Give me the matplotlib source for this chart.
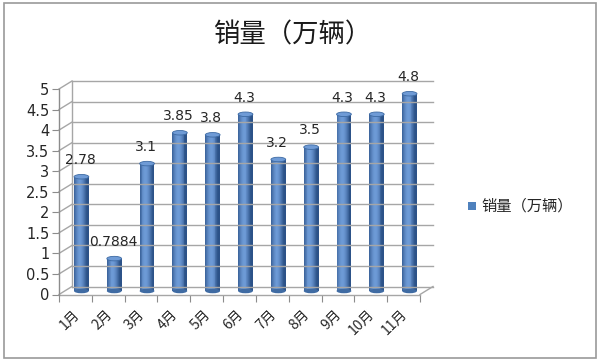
import matplotlib.pyplot as plt
import numpy as np
from matplotlib import transforms
from matplotlib.patches import Ellipse, Rectangle
from matplotlib.colors import to_rgb

plt.rcParams['font.family'] = ['Noto Sans CJK SC', 'DejaVu Sans']

months = ['1月', '2月', '3月', '4月', '5月', '6月', '7月', '8月', '9月', '10月', '11月']
sales = [2.78, 0.7884, 3.1, 3.85, 3.8, 4.3, 3.2, 3.5, 4.3, 4.3, 4.8]
labels = ['2.78', '0.7884', '3.1', '3.85', '3.8', '4.3', '3.2', '3.5', '4.3', '4.3', '4.8']
yticks = [0, 0.5, 1, 1.5, 2, 2.5, 3, 3.5, 4, 4.5, 5]
title = '销量（万辆）'

fig = plt.figure(figsize=(6, 3.61), dpi=100)
fig.patches.append(Rectangle((0.007, 0.008), 0.986, 0.984, transform=fig.transFigure,
                             fill=False, edgecolor='#9a9a9a', lw=1.2))

ax = fig.add_axes([59 / 600, 1 - 294.5 / 361, 361 / 600, 205.5 / 361])
n = len(months)
ax.set_xlim(-0.5, n - 0.5)
ax.set_ylim(0, 5)
for s in ax.spines.values():
    s.set_visible(False)
ax.set_facecolor('none')

grid_c = '#a6a6a6'
back = transforms.offset_copy(ax.transData, fig, x=13, y=8, units='dots')
mid = transforms.offset_copy(ax.transData, fig, x=6, y=3.5, units='dots')

# back wall gridlines and side wall diagonals
for yv in yticks:
    ax.plot([-0.5, n - 0.5], [yv, yv], color=grid_c, lw=1, transform=back, clip_on=False)
ax.plot([-0.5, -0.5], [0, 5], color=grid_c, lw=1, transform=back, clip_on=False)
for yv in yticks:
    p0 = ax.transData.transform((-0.5, yv))
    p1 = back.transform((-0.5, yv))
    ax.plot([p0[0], p1[0]], [p0[1], p1[1]], color=grid_c, lw=1,
            transform=None, clip_on=False)
# floor front and right edge
ax.plot([-0.5, n - 0.5], [0, 0], color=grid_c, lw=1, clip_on=False)
p0 = ax.transData.transform((n - 0.5, 0))
p1 = back.transform((n - 0.5, 0))
ax.plot([p0[0], p1[0]], [p0[1], p1[1]], color=grid_c, lw=1, transform=None, clip_on=False)
# front y axis
ax.plot([-0.5, -0.5], [0, 5], color='#8c8c8c', lw=1, clip_on=False)

# cylinder bars
w = 0.45
dark = np.array(to_rgb('#2c5288'))
light = np.array(to_rgb('#6d9ad6'))
strips = 16
ell_h = 0.11
for i, v in enumerate(sales):
    for k in range(strips):
        t = (k + 0.5) / strips
        sh = np.cos((t - 0.4) * np.pi * 1.05)
        col = dark + (light - dark) * max(sh, 0) ** 1.2
        ax.add_patch(Rectangle((i - w / 2 + k * w / strips, 0), w / strips * 1.05, v,
                               facecolor=col, edgecolor='none', transform=mid, clip_on=False))
    ax.add_patch(Ellipse((i, 0), w, ell_h, facecolor='#3f6ba3', edgecolor='none',
                         transform=mid, clip_on=False, zorder=1.5))
    ax.add_patch(Ellipse((i, v), w, ell_h, facecolor='#6f9bd6', edgecolor='#3d6aa3',
                         lw=0.6, transform=mid, clip_on=False, zorder=3))
    ax.annotate(labels[i], (i, v), xytext=(-1, 7), textcoords='offset points',
                xycoords=mid, ha='center', va='bottom', fontsize=10, color='#262626',
                family=['DejaVu Sans'])

ax.set_xticks(np.arange(-0.5, n, 1))
ax.set_xticklabels([])
ax.tick_params(axis='x', length=5, color='#8c8c8c', direction='out')
for i, m in enumerate(months):
    ax.text(i + 0.2, -0.3, m, rotation=45, ha='right', va='top', fontsize=10,
            color='#262626', transform=ax.transData)
ax.set_yticks(yticks)
ax.set_yticklabels([f'{t:g}' for t in yticks], fontsize=10.5, color='#262626',
                   family=['DejaVu Sans'])
ax.tick_params(axis='y', length=5, color='#8c8c8c', direction='out', pad=2)

fig.text(0.487, 1 - 35 / 361, title, ha='center', va='center', fontsize=19, color='#1a1a1a')

fig.patches.append(Rectangle((468 / 600, 1 - 210 / 361), 8 / 600, 8 / 361,
                             transform=fig.transFigure, facecolor='#4f81bd', edgecolor='none'))
fig.text(481 / 600, 1 - 206 / 361, title, ha='left', va='center', fontsize=11, color='#262626')

fig.savefig('out.png', dpi=100)
